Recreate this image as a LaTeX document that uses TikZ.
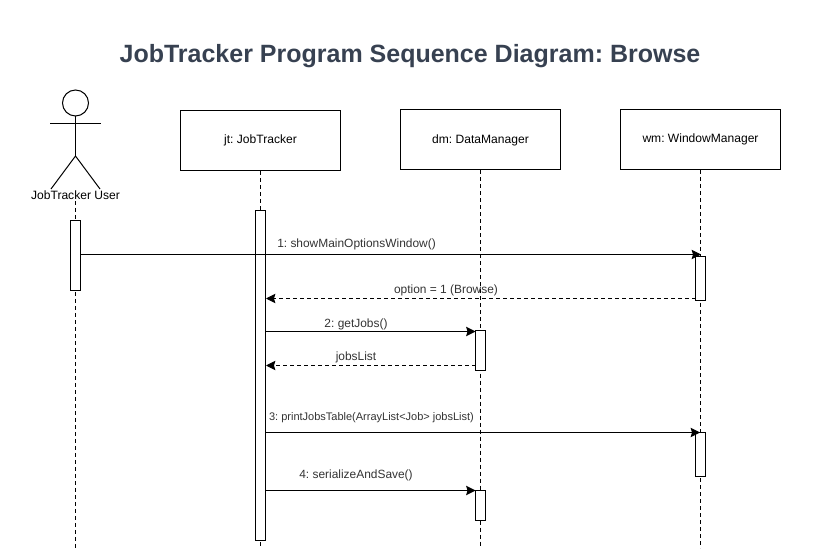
\documentclass[tikz,border=0pt]{standalone}
\usepackage{fontspec}
\setmainfont{Liberation Sans}
\usetikzlibrary{arrows.meta}
\definecolor{titlegray}{RGB}{55,65,81}
\definecolor{labelgray}{RGB}{51,51,51}
\tikzset{every picture/.style={line width=0.75pt}}
\tikzset{
  objbox/.style={draw,fill=white,minimum width=120pt,minimum height=45pt,inner sep=0pt,font=\fontsize{9.05}{11}\selectfont},
  actbar/.style={draw,fill=white,minimum width=7.5pt,inner sep=0pt},
  lifeline/.style={dashed,dash pattern=on 3pt off 2.25pt},
  callmsg/.style={-{Stealth[length=7pt,width=7pt,inset=1pt]}},
  retmsg/.style={callmsg,dash pattern=on 3pt off 2.25pt},
  msglabel/.style={inner sep=0.75pt,text=labelgray,font=\fontsize{8.95}{10}\selectfont}
}

\begin{document}
\frenchspacing
\begin{tikzpicture}[x=0.75pt,y=0.75pt,yscale=-1,xscale=1]
\useasboundingbox (0,0) rectangle (821,552);

% Title
\node (title) [text=titlegray,font=\fontsize{18.75}{22}\selectfont\bfseries] at (410,56.5) {JobTracker Program Sequence Diagram: Browse};

% Objects
\node (jt) [objbox] at (260.5,140.5) {jt: JobTracker};
\node (dm) [objbox] at (480.5,140) {dm: DataManager};
\node (wm) [objbox] at (700.5,139.5) {wm: WindowManager};

% Actor
\node (head) [draw,circle,minimum size=19.5pt,inner sep=0pt] at (75.5,103) {};
\coordinate (armL) at (50,123.5);
\coordinate (armR) at (101,123.5);
\coordinate (hip) at (75.5,156);
\coordinate (legL) at (51,189);
\coordinate (legR) at (100,189);
\draw (head.south) -- (hip);
\draw (armL) -- (armR);
\draw (legL) -- (hip) -- (legR);
\node (user) [inner sep=0.75pt,font=\fontsize{9.05}{11}\selectfont] at (75.5,195) {JobTracker User};

% Lifelines
\coordinate (userEnd) at (75.5,548);
\coordinate (jtEnd) at (260.5,548);
\coordinate (dmEnd) at (480.5,548);
\coordinate (wmEnd) at (700.5,548);
\draw [lifeline] (user.south) -- (userEnd);
\draw [lifeline] (jt.south) -- (jtEnd);
\draw [lifeline] (dm.south) -- (dmEnd);
\draw [lifeline] (wm.south) -- (wmEnd);

% Activation bars
\node (userbar) [actbar,minimum height=52.5pt] at (75.5,255.5) {};
\node (jtbar) [actbar,minimum height=247.5pt] at (260.5,375.5) {};
\node (wmbarA) [actbar,minimum height=33pt] at (700.5,278.5) {};
\node (wmbarB) [actbar,minimum height=33pt] at (700.5,454.5) {};
\node (dmbarA) [actbar,minimum height=30pt] at (480.5,350.5) {};
\node (dmbarB) [actbar,minimum height=22.5pt] at (480.5,505.5) {};

% Messages
\coordinate (callA) at (701,254.5);
\coordinate (backA) at (695.5,298.5);
\coordinate (callB) at (475.5,331.5);
\coordinate (backB) at (475.5,365.5);
\coordinate (callC) at (700,432.5);
\coordinate (callD) at (475.5,490.5);
\draw [callmsg] (userbar.east |- callA) -- (callA);
\draw [retmsg] (backA) -- (jtbar.east |- backA);
\draw [callmsg] (jtbar.east |- callB) -- (callB);
\draw [retmsg] (backB) -- (jtbar.east |- backB);
\draw [callmsg] (jtbar.east |- callC) -- (callC);
\draw [callmsg] (jtbar.east |- callD) -- (callD);

% Message labels
\node (labA) [msglabel] at (356.5,244.5) {1: showMainOptionsWindow()};
\node (labB) [msglabel] at (446,290.5) {option = 1 (Browse)};
\node (labC) [msglabel] at (356,324.5) {2: getJobs()};
\node (labD) [msglabel] at (356,357) {jobsList};
\node (labE) [msglabel] at (371.5,417.5) {\fontsize{8.25}{9}\selectfont 3: printJobsTable(ArrayList<Job> jobsList)};
\node (labF) [msglabel] at (356,475) {4: serializeAndSave()};

\end{tikzpicture}
\end{document}
